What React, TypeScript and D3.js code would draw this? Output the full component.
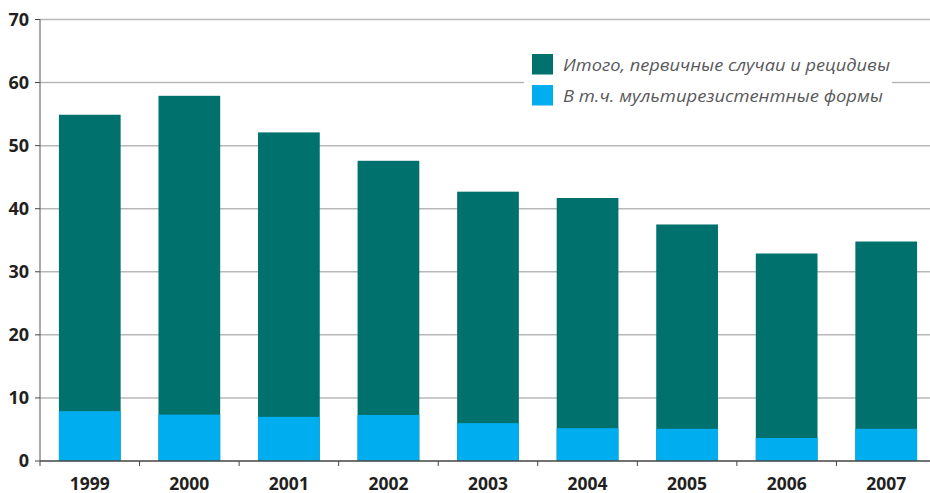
import React from "react";
import * as d3 from "d3";

const years = ["1999", "2000", "2001", "2002", "2003", "2004", "2005", "2006", "2007"];
const totalCases = [54.9, 57.9, 52.1, 47.6, 42.7, 41.7, 37.5, 32.9, 34.8];
const mdrCases = [7.9, 7.35, 7.0, 7.3, 6.0, 5.2, 5.1, 3.65, 5.1];
const yTicks = [0, 10, 20, 30, 40, 50, 60, 70];
const legendLabels = ["Итого, первичные случаи и рецидивы", "В т.ч. мультирезистентные формы"];

const W = 930;
const H = 493;
const left = 40;
const right = 936;
const top = 19.5;
const bottom = 461;
const teal = "#00716d";
const blue = "#00aeef";

export default function App() {
  const x = d3.scaleBand<string>().domain(years).range([left, right]).paddingInner(0.38).paddingOuter(0.19);
  const xStep = d3.scaleBand<string>().domain(years).range([left, right]);
  const y = d3.scaleLinear().domain([0, 70]).range([bottom, top]);
  const font = "'Open Sans', 'DejaVu Sans', sans-serif";
  return (
    <svg width={W} height={H} style={{ position: "absolute", left: 0, top: 0, background: "#fff" }}>
      {yTicks.map((t) => (
        <g key={t}>
          {t > 0 && <line x1={left} x2={W} y1={y(t)} y2={y(t)} stroke="#b8b8b8" strokeWidth={1.5} />}
          <line x1={left - 5} x2={left} y1={y(t)} y2={y(t)} stroke="#444" strokeWidth={1} />
          <text x={29} y={y(t)} dy="0.36em" textAnchor="end" fontFamily={font} fontWeight={700} fontSize={18} fill="#231f20">
            {t}
          </text>
        </g>
      ))}
      {years.map((yr, i) => (
        <g key={yr}>
          <rect x={x(yr)} y={y(totalCases[i])} width={x.bandwidth()} height={bottom - y(totalCases[i])} fill={teal} />
          <rect x={x(yr)} y={y(mdrCases[i])} width={x.bandwidth()} height={bottom - y(mdrCases[i])} fill={blue} />
          <line x1={xStep(yr)} x2={xStep(yr)} y1={bottom} y2={bottom + 5} stroke="#444" strokeWidth={1} />
          <text x={xStep(yr)! + xStep.bandwidth() / 2} y={489.5} textAnchor="middle" fontFamily={font} fontWeight={700} fontSize={17.5} fill="#231f20">
            {yr}
          </text>
        </g>
      ))}
      <line x1={left} x2={left} y1={top} y2={bottom} stroke="#555" strokeWidth={1} />
      <line x1={left} x2={W} y1={bottom} y2={bottom} stroke="#444" strokeWidth={1.5} />
      <rect x={524} y={46} width={368} height={66} fill="#fff" />
      {legendLabels.map((lab, i) => (
        <g key={lab}>
          <rect x={532} y={54 + i * 31} width={21} height={20.5} fill={i === 0 ? teal : blue} />
          <text
            x={563}
            y={70.5 + i * 31}
            fontFamily={font}
            fontStyle="italic"
            fontSize={17}
            fill="#58595b"
            textLength={i === 0 ? 327 : 320}
            lengthAdjust="spacingAndGlyphs"
          >
            {lab}
          </text>
        </g>
      ))}
    </svg>
  );
}
